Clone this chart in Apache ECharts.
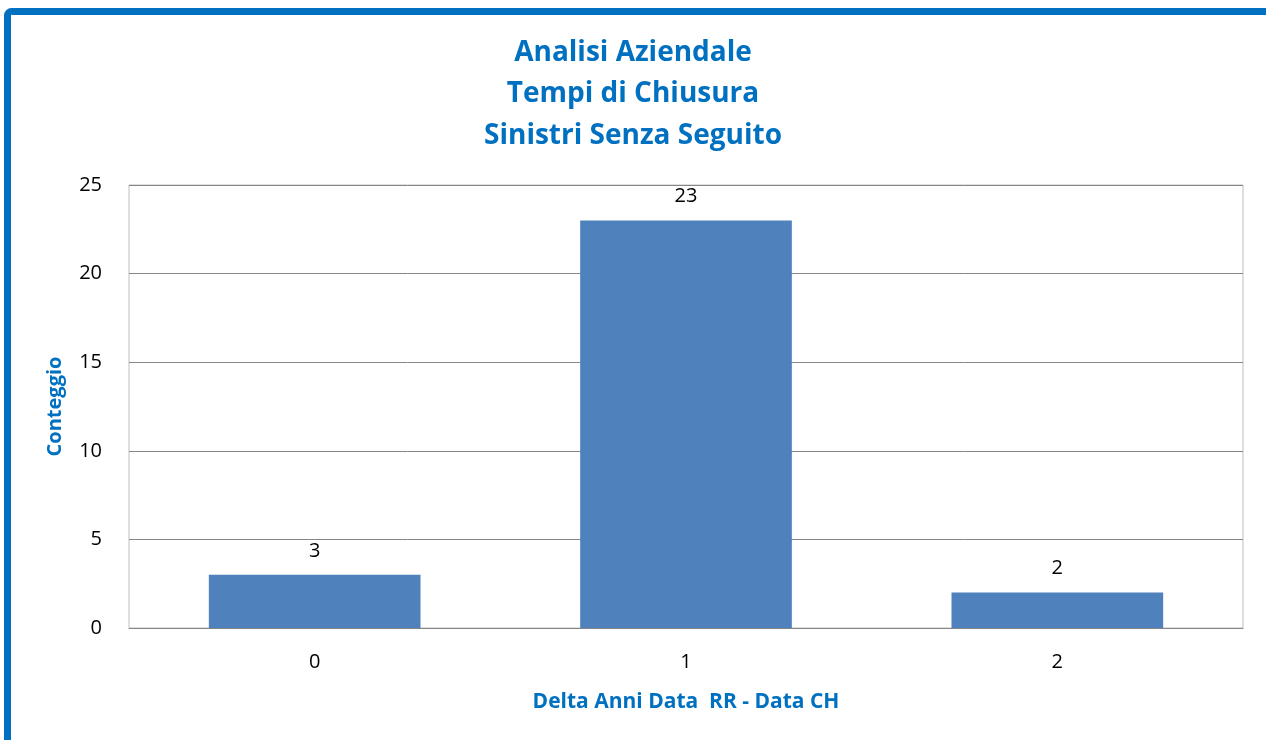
<!DOCTYPE html>
<html>
<head>
<meta charset="utf-8">
<script src="https://cdn.jsdelivr.net/npm/echarts@6/dist/echarts.min.js"></script>
<style>
html,body{margin:0;padding:0;background:#fff;}
#chart{width:1266px;height:740px;}
</style>
</head>
<body>
<div id="chart"></div>
<script>
const categories = ['0', '1', '2'];
const counts = [3, 23, 2];
const yTicks = [0, 5, 10, 15, 20, 25];
const titleLines = ['Analisi Aziendale', 'Tempi di Chiusura', 'Sinistri Senza Seguito'];

const chart = echarts.init(document.getElementById('chart'), null, {renderer: 'canvas'});
const blue = '#0070C0';
const font = "'Open Sans', 'Noto Sans', sans-serif";

chart.setOption({
  animation: false,
  backgroundColor: '#fff',
  title: {
    text: titleLines.join('\n'),
    left: 'center',
    top: 27,
    textStyle: {color: blue, fontFamily: font, fontWeight: 'bold', fontSize: 28, lineHeight: 41.5}
  },
  graphic: [{
    type: 'rect',
    shape: {x: 7.5, y: 11.5, width: 1400, height: 900, r: 4},
    style: {fill: 'none', stroke: blue, lineWidth: 7},
    z: 100
  }],
  grid: {
    left: 129, top: 185, right: 23, bottom: 112,
    show: true, borderColor: '#BFBFBF', borderWidth: 1
  },
  xAxis: {
    type: 'category',
    data: categories,
    name: 'Delta Anni Data  RR - Data CH',
    nameLocation: 'middle',
    nameGap: 64,
    nameTextStyle: {color: blue, fontFamily: font, fontWeight: 'bold', fontSize: 21},
    axisLine: {lineStyle: {color: '#868686', width: 1}},
    axisTick: {show: false},
    axisLabel: {color: '#000', fontFamily: font, fontSize: 20, margin: 24}
  },
  yAxis: {
    type: 'value',
    min: 0, max: 25, interval: 5,
    name: 'Conteggio',
    nameLocation: 'middle',
    nameGap: 64,
    nameTextStyle: {color: blue, fontFamily: font, fontWeight: 'bold', fontSize: 20},
    axisLine: {show: false},
    axisTick: {show: false},
    axisLabel: {color: '#000', fontFamily: font, fontSize: 20, margin: 27,
      formatter: v => yTicks.includes(v) ? String(v) : ''},
    splitLine: {lineStyle: {color: '#868686', width: 1}}
  },
  series: [{
    type: 'bar',
    data: counts,
    barWidth: '57%',
    itemStyle: {color: '#4F81BD'},
    label: {show: true, position: 'top', distance: 14, color: '#000', fontFamily: font, fontSize: 20}
  }]
});
</script>
</body>
</html>
